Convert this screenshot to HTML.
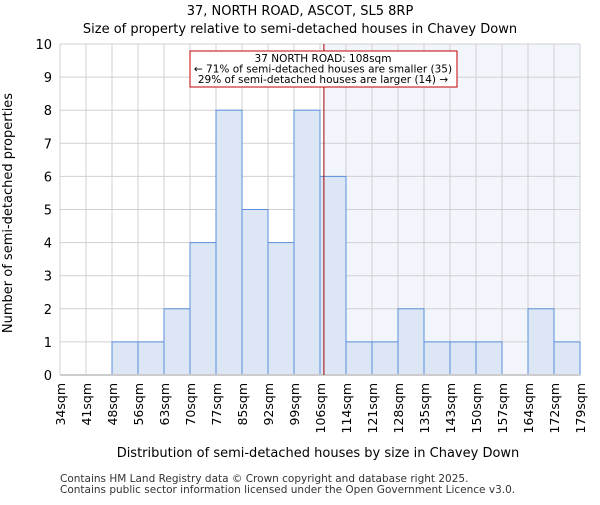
<!DOCTYPE html>
<html><head><meta charset="utf-8"><style>
body{margin:0;background:#fff}
svg{font-family:"DejaVu Sans","Liberation Sans",sans-serif}
</style></head><body>
<svg id="chart" width="600" height="500" xmlns="http://www.w3.org/2000/svg">
<text x="300" y="15" text-anchor="middle" font-size="13">37, NORTH ROAD, ASCOT, SL5 8RP</text>
<text x="300" y="33" text-anchor="middle" font-size="13">Size of property relative to semi-detached houses in Chavey Down</text>
<g id="plot"></g>
<text x="318" y="457" text-anchor="middle" font-size="13">Distribution of semi-detached houses by size in Chavey Down</text>
<text transform="translate(12,213) rotate(-90)" text-anchor="middle" font-size="13">Number of semi-detached properties</text>
<text x="60" y="482" font-size="10.5" fill="#333">Contains HM Land Registry data © Crown copyright and database right 2025.</text>
<text x="60" y="493" font-size="10.5" fill="#333">Contains public sector information licensed under the Open Government Licence v3.0.</text>
</svg>
<script>
const categories=["34sqm","41sqm","48sqm","56sqm","63sqm","70sqm","77sqm","85sqm","92sqm","99sqm","106sqm","114sqm","121sqm","128sqm","135sqm","143sqm","150sqm","157sqm","164sqm","172sqm","179sqm"];
const counts=[0,0,1,1,2,4,8,5,4,8,6,1,1,2,1,1,1,0,2,1];
const yTicks=[0,1,2,3,4,5,6,7,8,9,10];
const markerIndex=10.15;
const NS="http://www.w3.org/2000/svg";
const X0=60,X1=580,Y0=375,Y1=44,YMAX=10;
const bw=(X1-X0)/counts.length;
const xs=i=>X0+i*bw;
const ys=v=>Y0-(Y0-Y1)*v/YMAX;
const g=document.getElementById('plot');
function mk(t,a){const e=document.createElementNS(NS,t);for(const k in a)e.setAttribute(k,a[k]);g.appendChild(e);return e;}
const mx=xs(markerIndex);
let e=mk('rect',{x:mx,y:Y1,width:X1-mx,height:Y0-Y1,fill:'#f3f5fd'});


yTicks.forEach(t=>{
 let l=mk('line',{x1:X0,x2:X1,y1:ys(t),y2:ys(t),stroke:'#d0d0d0'});
 
 
 let tx=mk('text',{x:X0-8,y:ys(t)+5,'text-anchor':'end','font-size':13});
 tx.textContent=t;
 
 
});
categories.forEach((c,i)=>{
 let l=mk('line',{x1:xs(i),x2:xs(i),y1:Y1,y2:Y0,stroke:'#d0d0d0'});
 
 
 let tx=mk('text',{transform:`translate(${xs(i)+5},${Y0+8}) rotate(-90)`,'text-anchor':'end','font-size':12.5});
 tx.textContent=c;
 
 
});
counts.forEach((v,i)=>{
 if(v<=0)return;
 let r=mk('rect',{x:xs(i),y:ys(v),width:bw,height:Y0-ys(v),fill:'#dce6f5',stroke:'#5b8fd9','stroke-width':1});
 
 
});
let ax=mk('line',{x1:X0,x2:X1,y1:Y0,y2:Y0,stroke:'#ccc','stroke-width':2});


let ml=mk('line',{x1:mx,x2:mx,y1:Y1,y2:Y0,stroke:'#a00000','stroke-width':1});


let box=mk('rect',{x:190,y:51,width:267,height:36,fill:'#fff',stroke:'#c00000'});


["37 NORTH ROAD: 108sqm","← 71% of semi-detached houses are smaller (35)","29% of semi-detached houses are larger (14) →"].forEach((s,k)=>{
 let t=mk('text',{x:323,y:62+k*10.5,'text-anchor':'middle','font-size':10.5});
 t.textContent=s;
 
 
});
</script>
</body></html>
